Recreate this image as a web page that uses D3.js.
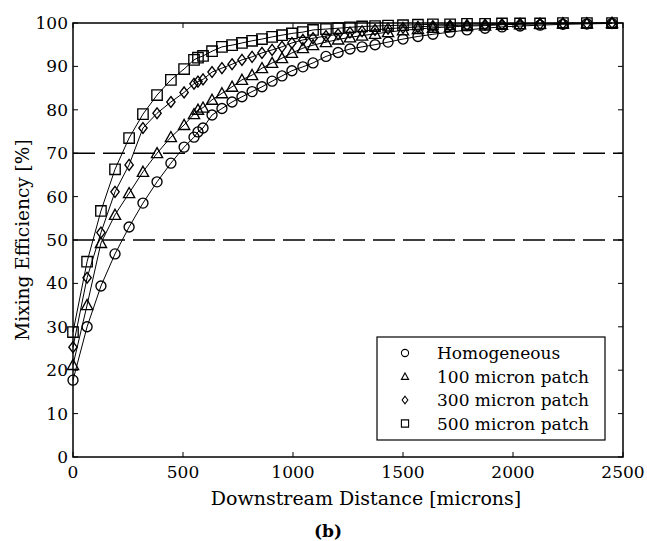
<!DOCTYPE html>
<html>
<head>
<meta charset="utf-8">
<script src="https://cdn.jsdelivr.net/npm/d3@7"></script>
<style>
  html, body { margin: 0; padding: 0; background: #fff; }
  svg { display: block; }
  text { font-family: "DejaVu Serif", serif; fill: #000; }
</style>
</head>
<body>
<svg id="chart" width="647" height="541"></svg>
<script>
// ---- data ----
const distance = [0, 64, 127, 191, 255, 318, 382, 445, 505, 550, 568, 591, 632, 677, 723, 768, 814, 859, 905, 950, 995, 1045, 1091, 1150, 1205, 1259, 1314, 1373, 1432, 1500, 1568, 1636, 1714, 1791, 1873, 1950, 2032, 2123, 2227, 2336, 2450];
const homogeneous = [17.7, 30, 39.4, 46.8, 53, 58.5, 63.4, 67.7, 71.4, 73.7, 74.9, 75.8, 78.8, 80.3, 81.8, 83, 84.2, 85.3, 86.6, 87.8, 89, 89.9, 90.8, 92.3, 93.2, 94.0, 94.5, 95.0, 95.6, 96.3, 96.9, 97.4, 97.9, 98.4, 98.8, 99.1, 99.3, 99.5, 99.7, 99.8, 99.9];
const patch100 = [21.2, 35, 49.3, 55.8, 60.8, 65.7, 70, 73.7, 76.5, 79, 80, 80.5, 82.3, 83.8, 85.3, 86.9, 88, 89.6, 90.8, 91.9, 93.1, 94.2, 94.9, 95.6, 96.2, 96.7, 97.1, 97.5, 97.9, 98.3, 98.6, 98.9, 99.1, 99.3, 99.4, 99.6, 99.7, 99.8, 99.9, 99.9, 100];
const patch300 = [25.3, 41.3, 51.7, 61.1, 67.3, 75.8, 79.2, 81.8, 84, 86, 86.5, 87, 88.7, 89.6, 90.5, 91.5, 92.2, 93.1, 93.8, 94.5, 95.4, 96.1, 96.5, 97.0, 97.4, 97.8, 98.1, 98.4, 98.7, 98.9, 99.1, 99.3, 99.4, 99.5, 99.6, 99.7, 99.8, 99.8, 99.9, 99.9, 100];
const patch500 = [28.8, 45, 56.7, 66.3, 73.5, 79, 83.4, 86.9, 89.4, 91.5, 92, 92.4, 93.5, 94.5, 94.9, 95.4, 95.9, 96.3, 96.8, 97.2, 97.6, 97.9, 98.4, 98.6, 98.8, 99.0, 99.2, 99.3, 99.4, 99.5, 99.6, 99.7, 99.7, 99.8, 99.8, 99.9, 99.9, 99.9, 100, 100, 100];
const seriesNames = ["Homogeneous", "100 micron patch", "300 micron patch", "500 micron patch"];
const seriesMarkers = ["circle", "triangle", "diamond", "square"];
const refLevels = [50, 70];
const xTicks = [0, 500, 1000, 1500, 2000, 2500];
const yTicks = [0, 10, 20, 30, 40, 50, 60, 70, 80, 90, 100];
const xLabel = "Downstream Distance [microns]";
const yLabel = "Mixing Efficiency [%]";
const caption = "(b)";

// ---- chart ----
const svg = d3.select("#chart");
const L = 73, R = 623, T = 23, B = 457;
const x = d3.scaleLinear().domain([0, 2500]).range([L, R]);
const y = d3.scaleLinear().domain([0, 100]).range([B, T]);

const allSeries = [homogeneous, patch100, patch300, patch500];

// reference dashed lines
svg.append("g").selectAll("line").data(refLevels).join("line")
  .attr("x1", x(0)).attr("x2", x(2500))
  .attr("y1", d => y(d)).attr("y2", d => y(d))
  .attr("stroke", "#000").attr("stroke-width", 1.5)
  .attr("stroke-dasharray", "22,8");

// lines
const line = d3.line().x((d, i) => x(distance[i])).y(d => y(d));
svg.append("g").selectAll("path").data(allSeries).join("path")
  .attr("d", d => line(d))
  .attr("fill", "none").attr("stroke", "#000").attr("stroke-width", 1);

function markerPath(type, s) {
  switch (type) {
    case "circle": return d3.symbol(d3.symbolCircle, Math.PI * s * s)();
    case "square": return `M${-s},${-s}H${s}V${s}H${-s}Z`;
    case "diamond": return `M0,${-s * 1.05}L${s * 0.8},0L0,${s * 1.05}L${-s * 0.8},0Z`;
    case "triangle": return `M0,${-s}L${s},${s * 0.8}L${-s},${s * 0.8}Z`;
  }
}
const markerSize = { circle: 5, square: 5.2, diamond: 5.2, triangle: 5.6 };

allSeries.forEach((vals, si) => {
  const type = seriesMarkers[si];
  svg.append("g").selectAll("path").data(vals).join("path")
    .attr("transform", (d, i) => `translate(${x(distance[i])},${y(d)})`)
    .attr("d", markerPath(type, markerSize[type]))
    .attr("fill", "none").attr("stroke", "#000").attr("stroke-width", 1.35);
});

// axes box
const axG = svg.append("g");
axG.append("rect").attr("x", L).attr("y", T).attr("width", R - L).attr("height", B - T)
  .attr("fill", "none").attr("stroke", "#000").attr("stroke-width", 1.5);

// ticks (inward, on all four sides)
const tl = 5;
xTicks.forEach(t => {
  axG.append("line").attr("x1", x(t)).attr("x2", x(t)).attr("y1", B).attr("y2", B - tl).attr("stroke", "#000");
  axG.append("line").attr("x1", x(t)).attr("x2", x(t)).attr("y1", T).attr("y2", T + tl).attr("stroke", "#000");
  axG.append("text").attr("x", x(t)).attr("y", 478).attr("text-anchor", "middle")
    .attr("font-size", 17).text(t);
});
yTicks.forEach(t => {
  axG.append("line").attr("x1", L).attr("x2", L + tl).attr("y1", y(t)).attr("y2", y(t)).attr("stroke", "#000");
  axG.append("line").attr("x1", R).attr("x2", R - tl).attr("y1", y(t)).attr("y2", y(t)).attr("stroke", "#000");
  axG.append("text").attr("x", 68).attr("y", y(t) + 6).attr("text-anchor", "end")
    .attr("font-size", 17).text(t);
});

// axis labels
svg.append("text").attr("x", 366).attr("y", 505).attr("text-anchor", "middle")
  .attr("font-size", 19).text(xLabel);
svg.append("text").attr("transform", `translate(29,${(T + B) / 2}) rotate(-90)`)
  .attr("text-anchor", "middle").attr("font-size", 18.5).text(yLabel);
svg.append("text").attr("x", 328).attr("y", 537).attr("text-anchor", "middle")
  .attr("font-size", 17).attr("font-weight", "bold").text(caption);

// legend
const lg = svg.append("g");
lg.append("rect").attr("x", 377).attr("y", 337).attr("width", 228).attr("height", 103)
  .attr("fill", "#fff").attr("stroke", "#000").attr("stroke-width", 1.2);
seriesNames.forEach((name, i) => {
  const cy = 353 + i * 23.5;
  const type = seriesMarkers[i];
  lg.append("path").attr("transform", `translate(405,${cy})`)
    .attr("d", markerPath(type, 3.6))
    .attr("fill", "none").attr("stroke", "#000").attr("stroke-width", 1.1);
  lg.append("text").attr("x", 437).attr("y", cy + 6).attr("font-size", 17).text(name);
});
</script>
</body>
</html>
